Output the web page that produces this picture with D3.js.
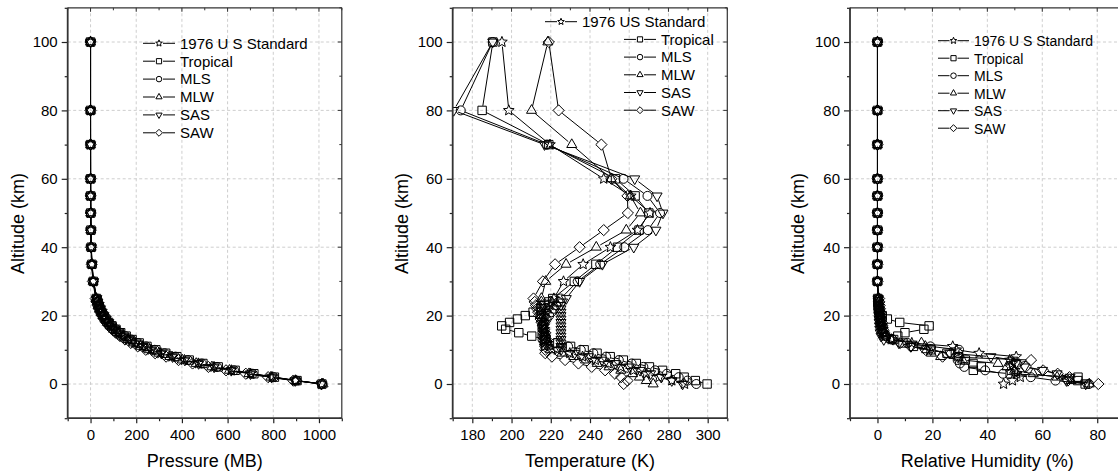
<!DOCTYPE html>
<html><head><meta charset="utf-8">
<script src="https://cdn.jsdelivr.net/npm/d3@7"></script>
<style>
body{margin:0;background:#fff}
svg{display:block}
text{font-family:Arial,"Liberation Sans",Helvetica,sans-serif;fill:#000}
</style>
</head><body>
<svg id="chart" width="1118" height="475"></svg>
<script>
// ---------------- DATA ----------------
const altitudes = [0,1,2,3,4,5,6,7,8,9,10,11,12,13,14,15,16,17,18,19,20,21,22,23,24,25,30,35,40,45,50,55,60,70,80,100];
const seriesNames = ["1976 U S Standard","Tropical","MLS","MLW","SAS","SAW"];
const seriesNamesTemp = ["1976 US Standard","Tropical","MLS","MLW","SAS","SAW"];
const seriesSymbols = ["star","square","circle","up","down","diamond"];

// Pressure (MB)
const pressureUS  = [1013,898.6,795.0,701.2,616.6,540.5,472.2,411.1,356.5,308.0,265.0,227.0,194.0,165.8,141.7,121.1,103.5,88.5,75.65,64.67,55.29,47.29,40.47,34.67,29.72,25.49,11.97,5.746,2.871,1.491,0.7978,0.425,0.219,0.0522,0.0105,0.00032];
const pressureTRO = [1013,904,805,715,633,559,492,432,378,329,286,247,213,182,156,132,111,93.7,78.9,66.6,56.5,48.0,40.9,35.0,30.0,25.7,12.2,6.0,3.05,1.59,0.854,0.467,0.253,0.0626,0.0134,0.00033];
const pressureMLS = [1013,902,802,710,628,554,487,426,372,324,281,243,209,179,153,130,111,95.0,81.2,69.5,59.5,51.0,43.7,37.6,32.2,27.7,13.2,6.52,3.33,1.76,0.951,0.515,0.272,0.067,0.012,0.0003];
const pressureMLW = [1018,897.3,789.7,693.8,608.1,531.3,462.7,401.6,347.3,299.2,256.8,219.9,188.2,161.0,137.8,117.8,100.7,86.1,73.5,62.8,53.7,45.8,39.1,33.4,28.6,24.3,11.1,5.18,2.53,1.29,0.682,0.362,0.188,0.0467,0.0103,0.0003];
const pressureSAS = [1010,896,792.9,700,616,541,473,413,359,310.7,267.7,230.0,197.7,170.0,146.0,125.0,108.0,92.8,79.8,68.6,58.9,50.7,43.6,37.5,32.27,27.8,13.4,6.61,3.4,1.81,0.987,0.537,0.288,0.0702,0.0114,0.00028];
const pressureSAW = [1013,887.8,777.5,679.8,593.2,515.8,446.7,385.3,330.8,282.9,241.8,206.7,176.6,151.0,129.1,110.3,94.31,80.58,68.82,58.75,50.14,42.77,36.47,31.09,26.49,22.56,10.2,4.7,2.24,1.14,0.595,0.313,0.162,0.0387,0.0092,0.00029];

// Temperature (K)
const tempUS  = [288.2,281.7,275.2,268.7,262.2,255.7,249.2,242.7,236.2,229.7,223.3,216.8,216.7,216.7,216.7,216.7,216.7,216.7,216.7,216.7,216.7,217.6,218.6,219.6,220.6,221.6,226.5,236.5,250.4,264.2,270.6,260.8,247.0,219.6,198.6,195.1];
const tempTRO = [299.7,293.7,288.0,283.7,277.0,270.3,263.6,257.0,250.3,243.6,237.0,230.1,223.6,217.0,210.3,203.7,197.0,195.0,199.0,203.0,207.0,211.0,215.0,217.0,219.0,221.0,232.0,243.0,254.0,265.0,270.0,263.0,253.0,219.0,185.0,190.5];
const tempMLS = [294.2,289.7,285.2,279.2,273.2,267.2,261.2,254.7,248.2,241.7,235.3,228.8,222.3,215.8,215.7,215.7,215.7,215.7,216.8,217.9,219.2,220.4,221.6,222.8,223.9,225.1,233.7,245.2,257.5,269.5,275.7,269.3,257.1,218.1,174.1,190.4];
const tempMLW = [272.2,268.7,265.2,261.7,255.7,249.7,243.7,237.7,231.7,225.7,219.7,219.2,218.7,218.2,217.7,217.2,216.7,216.2,215.7,215.2,215.2,215.2,215.2,215.2,215.2,215.2,217.4,227.8,243.2,258.5,265.7,260.6,250.8,230.7,210.2,218.5];
const tempSAS = [287.2,281.7,276.3,270.9,265.5,260.1,253.1,246.1,239.2,232.2,225.2,225.2,225.2,225.2,225.2,225.2,225.2,225.2,225.2,225.2,225.2,225.2,225.2,225.2,226.0,227.9,234.7,246.3,262.3,273.6,277.2,274.2,262.8,216.8,170.5,190.4];
const tempSAW = [257.2,259.1,255.9,252.7,247.7,240.9,234.1,227.3,220.6,217.2,217.2,217.2,217.2,217.2,217.2,217.2,216.6,216.0,215.4,214.8,214.1,213.6,213.0,212.4,211.8,211.2,216.0,222.2,234.7,247.0,259.3,259.1,250.9,245.8,224.0,219.0];

// Relative humidity (%)
const rhUS  = [45.9,49.1,52.0,50.7,50.0,48.3,49.1,48.1,50.5,37.0,28.7,27.4,12.5,5.0,2.8,2.4,2.0,1.7,1.5,1.2,1.0,0.8,0.6,0.45,0.35,0.25,0,0,0,0,0,0,0,0,0,0];
const rhTRO = [75.6,72.9,73.0,48.3,34.9,37.8,34.8,32.0,29.5,25.3,19.5,13.1,9.3,5.9,7.4,10.0,16.9,18.8,8.1,3.6,1.75,0.89,0.47,0.31,0.21,0.15,0,0,0,0,0,0,0,0,0,0];
const rhMLS = [77.0,64.8,55.8,45.7,39.2,31.6,30.0,29.2,29.6,29.4,29.7,19.3,10.9,5.4,2.9,1.7,1.4,1.16,0.86,0.65,0.49,0.37,0.28,0.22,0.17,0.13,0,0,0,0,0,0,0,0,0,0];
const rhMLW = [77.1,70.5,65.4,56.7,49.9,47.1,43.9,31.0,23.0,19.6,17.9,17.4,16.0,5.1,3.0,2.4,2.0,1.8,1.6,1.4,1.2,1.0,0.8,0.6,0.45,0.35,0,0,0,0,0,0,0,0,0,0];
const rhSAS = [75.8,68.8,70.1,65.4,60.1,53.6,50.4,49.3,41.3,26.3,19.4,12.2,7.8,2.3,1.3,0.98,0.83,0.72,0.65,0.6,0.55,0.5,0.45,0.4,0.35,0.3,0,0,0,0,0,0,0,0,0,0];
const rhSAW = [80.4,69.3,69.9,65.6,60.3,54.0,50.6,55.9,23.7,26.8,17.5,12.1,8.3,5.7,3.2,2.4,2.0,1.8,1.6,1.4,1.2,1.0,0.9,0.8,0.7,0.6,0,0,0,0,0,0,0,0,0,0];

const altitudeTicks = [0,20,40,60,80,100];
const pressureTicks = [0,200,400,600,800,1000];
const temperatureTicks = [180,200,220,240,260,280,300];
const humidityTicks = [0,20,40,60,80];

// ---------------- DRAWING ----------------
const svg = d3.select("#chart");
const yTop = 7.8, yBot = 418.2;
const y = d3.scaleLinear().domain([-10,110]).range([yBot, yTop]);

function symbolPath(type, s) {
  const p = [];
  if (type === "circle") {
    const r = 4.5*s;
    return `M${r},0A${r},${r} 0 1,1 ${-r},0A${r},${r} 0 1,1 ${r},0Z`;
  }
  if (type === "square") {
    const h = 4.2*s;
    return `M${-h},${-h}H${h}V${h}H${-h}Z`;
  }
  if (type === "diamond") {
    const h = 5.6*s;
    return `M0,${-h}L${h},0L0,${h}L${-h},0Z`;
  }
  if (type === "up" || type === "down") {
    const R = 5.8*s, sg = type === "up" ? 1 : -1;
    const c = Math.cos(Math.PI/6)*R;
    return `M0,${-R*sg}L${c},${R/2*sg}L${-c},${R/2*sg}Z`;
  }
  if (type === "star") {
    const R = 5.6*s, r = 2.5*s;
    for (let i = 0; i < 10; i++) {
      const a = -Math.PI/2 + i*Math.PI/5;
      const rr = i % 2 ? r : R;
      p.push([rr*Math.cos(a), rr*Math.sin(a)]);
    }
    return "M" + p.map(d => d[0].toFixed(2)+","+d[1].toFixed(2)).join("L") + "Z";
  }
}

function drawPanel(cfg) {
  const x = d3.scaleLinear().domain(cfg.domain).range([cfg.x0, cfg.x1]);
  const g = svg.append("g");
  const clipId = "clip" + cfg.id;
  svg.append("clipPath").attr("id", clipId).append("rect")
    .attr("x", cfg.x0).attr("y", yTop).attr("width", cfg.x1 - cfg.x0).attr("height", yBot - yTop);

  // grid
  const grid = g.append("g").attr("stroke", "#c8c8c8").attr("stroke-width", 0.9).attr("stroke-dasharray", "3,2.5");
  cfg.ticks.forEach(t => grid.append("line").attr("x1", x(t)).attr("x2", x(t)).attr("y1", yTop).attr("y2", yBot));
  altitudeTicks.forEach(t => grid.append("line").attr("x1", cfg.x0).attr("x2", cfg.x1).attr("y1", y(t)).attr("y2", y(t)));

  // series
  const plot = g.append("g").attr("clip-path", `url(#${clipId})`);
  const gap = 4.6;
  cfg.series.forEach((vals, si) => {
    const pts = vals.map((v, i) => [x(v), y(altitudes[i])]);
    const sg = plot.append("g");
    for (let i = 0; i < pts.length - 1; i++) {
      const [ax, ay] = pts[i], [bx, by] = pts[i+1];
      const dx = bx - ax, dy = by - ay, L = Math.hypot(dx, dy);
      if (L <= 2*gap + 0.5) continue;
      const ux = dx/L, uy = dy/L;
      sg.append("line")
        .attr("x1", ax + ux*gap).attr("y1", ay + uy*gap)
        .attr("x2", bx - ux*gap).attr("y2", by - uy*gap)
        .attr("stroke", "#000").attr("stroke-width", 1);
    }
    sg.selectAll("path").data(pts).join("path")
      .attr("transform", d => `translate(${d[0]},${d[1]})`)
      .attr("d", symbolPath(seriesSymbols[si], 1))
      .attr("fill", "none").attr("stroke", "#000").attr("stroke-width", 1);
  });

  // frame top/right
  g.append("line").attr("x1", cfg.x0).attr("x2", cfg.x1).attr("y1", yTop).attr("y2", yTop).attr("stroke", "#333").attr("stroke-width", 1.2);
  g.append("line").attr("x1", cfg.x1).attr("x2", cfg.x1).attr("y1", yTop).attr("y2", yBot).attr("stroke", "#333").attr("stroke-width", 1.2);
  // inner ticks top/right
  const minorX = d3.range(cfg.domain[0], cfg.domain[1] + 1e-9, cfg.minor);
  minorX.forEach(t => {
    const major = cfg.ticks.includes(t);
    g.append("line").attr("x1", x(t)).attr("x2", x(t)).attr("y1", yTop).attr("y2", yTop + (major ? 4 : 2.5)).attr("stroke", "#333");
  });
  d3.range(-10, 110.001, 10).forEach(t => {
    const major = altitudeTicks.includes(t);
    g.append("line").attr("x1", cfg.x1).attr("x2", cfg.x1 - (major ? 4 : 2.5)).attr("y1", y(t)).attr("y2", y(t)).attr("stroke", "#333");
  });

  // bottom axis
  const xAxis = d3.axisBottom(x).tickValues(cfg.ticks).tickSize(5).tickPadding(6).tickFormat(d3.format("d"));
  const ax = g.append("g").attr("transform", `translate(0,${yBot})`).call(xAxis);
  ax.select(".domain").remove();
  ax.selectAll(".tick line").attr("stroke", "#222").attr("stroke-width", 1.2);
  ax.selectAll("text").attr("font-size", 15).attr("font-family", "Arial, 'Liberation Sans', sans-serif").attr("fill", "#000");
  const axMinor = d3.axisBottom(x).tickValues(minorX.filter(t => !cfg.ticks.includes(t))).tickSize(3).tickFormat("");
  const axm = g.append("g").attr("transform", `translate(0,${yBot})`).call(axMinor);
  axm.select(".domain").remove();
  axm.selectAll(".tick line").attr("stroke", "#222").attr("stroke-width", 1.2);

  // left axis
  const yAxis = d3.axisLeft(y).tickValues(altitudeTicks).tickSize(6).tickPadding(4).tickFormat(d3.format("d"));
  const ay = g.append("g").attr("transform", `translate(${cfg.x0},0)`).call(yAxis);
  ay.select(".domain").remove();
  ay.selectAll(".tick line").attr("stroke", "#222").attr("stroke-width", 1.2);
  ay.selectAll("text").attr("font-size", 15).attr("font-family", "Arial, 'Liberation Sans', sans-serif").attr("fill", "#000");
  const ayMinor = d3.axisLeft(y).tickValues(d3.range(-10, 110.001, 10).filter(t => !altitudeTicks.includes(t))).tickSize(3).tickFormat("");
  const aym = g.append("g").attr("transform", `translate(${cfg.x0},0)`).call(ayMinor);
  aym.select(".domain").remove();
  aym.selectAll(".tick line").attr("stroke", "#222").attr("stroke-width", 1.2);

  // axis lines
  g.append("line").attr("x1", cfg.x0).attr("x2", cfg.x1).attr("y1", yBot).attr("y2", yBot).attr("stroke", "#333").attr("stroke-width", 1.8);
  g.append("line").attr("x1", cfg.x0).attr("x2", cfg.x0).attr("y1", yTop).attr("y2", yBot).attr("stroke", "#333").attr("stroke-width", 1.8);

  // titles
  g.append("text").attr("x", (cfg.x0 + cfg.x1)/2).attr("y", 467).attr("text-anchor", "middle")
    .attr("font-size", 18).text(cfg.title);
  g.append("text").attr("transform", `translate(${cfg.ytitleX},223.5) rotate(-90)`).attr("text-anchor", "middle")
    .attr("font-size", 18).text("Altitude (km)");

  // legend
  const lg = g.append("g");
  cfg.legend.labels.forEach((lab, i) => {
    const lx = cfg.legend.xs[i], ly = cfg.legend.y + i*cfg.legend.dy;
    const len = cfg.legend.len, mid = lx + len/2;
    lg.append("line").attr("x1", lx).attr("x2", mid - 4).attr("y1", ly).attr("y2", ly).attr("stroke", "#000");
    lg.append("line").attr("x1", mid + 4).attr("x2", lx + len).attr("y1", ly).attr("y2", ly).attr("stroke", "#000");
    lg.append("path").attr("transform", `translate(${mid},${ly})`).attr("d", symbolPath(seriesSymbols[i], 0.62))
      .attr("fill", "none").attr("stroke", "#000").attr("stroke-width", 1);
    lg.append("text").attr("x", lx + len + 5).attr("y", ly + 5.3).attr("font-size", cfg.legend.font).text(lab);
  });
}

const panels = [
  { id: 1, x0: 67.7, x1: 341.8, domain: [-100, 1100], ticks: pressureTicks, minor: 100,
    title: "Pressure (MB)", ytitleX: 24,
    series: [pressureUS, pressureTRO, pressureMLS, pressureMLW, pressureSAS, pressureSAW],
    legend: { labels: seriesNames, xs: [143,143,143,143,143,143], y: 43.3, dy: 17.9, len: 32, font: 15 } },
  { id: 2, x0: 452.7, x1: 727.3, domain: [170, 310], ticks: temperatureTicks, minor: 10,
    title: "Temperature (K)", ytitleX: 407.5,
    series: [tempUS, tempTRO, tempMLS, tempMLW, tempSAS, tempSAW],
    legend: { labels: seriesNamesTemp, xs: [545,624,624,624,624,624], y: 21.7, dy: 17.7, len: 32, font: 15 } },
  { id: 3, x0: 850, x1: 1124.7, domain: [-10, 90], ticks: humidityTicks, minor: 10,
    title: "Relative Humidity (%)", ytitleX: 804,
    series: [rhUS, rhTRO, rhMLS, rhMLW, rhSAS, rhSAW],
    legend: { labels: seriesNames, xs: [938,938,938,938,938,938], y: 40.7, dy: 17.5, len: 31, font: 14 } }
];
panels.forEach(drawPanel);
</script>
</body></html>
